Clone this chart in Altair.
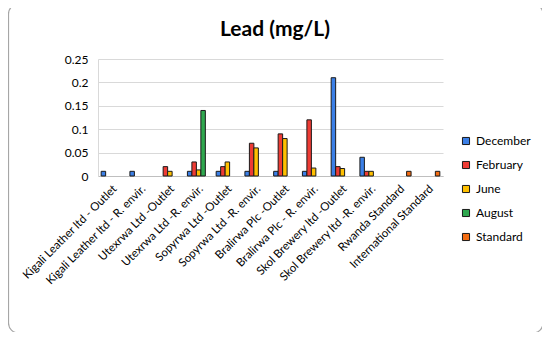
import altair as alt
import pandas as pd

chart_title = "Lead (mg/L)"
categories = [
    "Kigali Leather ltd - Outlet",
    "Kigali Leather ltd - R. envir.",
    "Utexrwa Ltd -Outlet",
    "Utexrwa Ltd -R. envir.",
    "Sopyrwa Ltd -Outlet",
    "Sopyrwa Ltd -R. envir.",
    "Bralirwa Plc -Outlet",
    "Bralirwa Plc - R. envir.",
    "Skol Brewery ltd -Outlet",
    "Skol Brewery ltd -R. envir.",
    "Rwanda Standard",
    "International Standard",
]
series = ["December", "February", "June", "August", "Standard"]
december = [0.01, 0.01, None, 0.01, 0.01, 0.01, 0.01, 0.01, 0.21, 0.04, None, None]
february = [None, None, 0.02, 0.03, 0.02, 0.07, 0.09, 0.12, 0.02, 0.01, None, None]
june = [None, None, 0.01, 0.013, 0.03, 0.06, 0.08, 0.017, 0.016, 0.01, None, None]
august = [None, None, None, 0.14, None, None, None, None, None, None, None, None]
standard = [None, None, None, None, None, None, None, None, None, None, 0.01, 0.01]
colors = ["#3b7fe6", "#ee3b34", "#ffc000", "#2fa84f", "#f36c12"]

rows = []
for name, vals in zip(series, [december, february, june, august, standard]):
    for c, v in zip(categories, vals):
        if v is not None:
            rows.append({"Category": c, "Series": name, "Value": v})
df = pd.DataFrame(rows)

FONT = "Lato"

bars = alt.Chart(df).mark_bar(stroke="#1a1a1a", strokeWidth=1).encode(
    x=alt.X("Category:N", sort=categories, title=None,
            scale=alt.Scale(domain=categories, paddingInner=0.22, paddingOuter=0.11),
            axis=alt.Axis(labelAngle=-45, labelAlign="right", labelBaseline="middle",
                          labelPadding=11, labelOffset=3, ticks=False, domainColor="#bfbfbf",
                          labelFontSize=11.5, labelColor="#000000", labelFont=FONT,
                          labelLimit=300)),
    xOffset=alt.XOffset("Series:N", scale=alt.Scale(domain=series, paddingInner=0, paddingOuter=0)),
    y=alt.Y("Value:Q", title=None,
            scale=alt.Scale(domain=[0, 0.25], nice=False),
            axis=alt.Axis(values=[0, 0.05, 0.1, 0.15, 0.2, 0.25], format=".2~f",
                          ticks=False, domain=True, domainColor="#d9d9d9",
                          gridColor="#d9d9d9", gridWidth=1.2,
                          labelFontSize=12, labelColor="#000000", labelFont=FONT,
                          labelPadding=10)),
    color=alt.Color("Series:N", scale=alt.Scale(domain=series, range=colors),
                    legend=alt.Legend(title=None, orient="none", legendX=362, legendY=76,
                                      symbolType="square", symbolSize=50,
                                      symbolStrokeColor="#1a1a1a", symbolStrokeWidth=1,
                                      labelFontSize=12, labelFont=FONT, labelColor="#000000",
                                      rowPadding=12, labelOffset=4)),
)

border = alt.Chart(pd.DataFrame({"a": [0]})).mark_rect(
    fill=None, stroke="#a6a6a6", strokeWidth=1.2, cornerRadius=10
).encode(
    x=alt.value(-89.5), x2=alt.value(445), y=alt.value(-55), y2=alt.value(274)
)

title = alt.Chart(pd.DataFrame({"t": [chart_title]})).mark_text(
    font=FONT, fontSize=21, fontWeight="bold", color="#000000", align="center", baseline="middle"
).encode(text="t:N", x=alt.value(177), y=alt.value(-29))

chart = alt.layer(border, bars, title).properties(
    width=345, height=117,
    autosize=alt.AutoSizeParams(type="none"),
    padding={"left": 90, "top": 51, "right": 99, "bottom": 156},
).configure_view(stroke=None)

chart.save("out.html", embed_options={"renderer": "svg", "actions": False})
